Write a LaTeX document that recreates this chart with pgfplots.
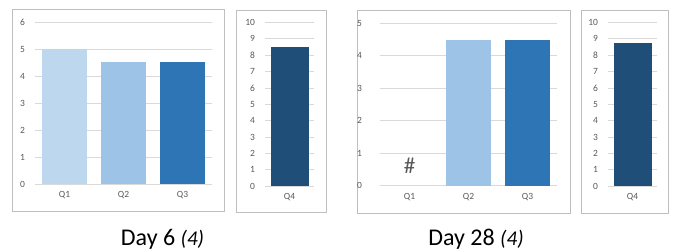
\documentclass[border=0pt]{standalone}
\usepackage{pgfplots}
\pgfplotsset{compat=1.18}
\usepackage{fontspec}
\setmainfont{Carlito}
\definecolor{cQ1}{RGB}{189,215,238}
\definecolor{cQ2}{RGB}{157,195,230}
\definecolor{cQ3}{RGB}{46,117,182}
\definecolor{cQ4}{RGB}{31,78,121}
\definecolor{gridc}{RGB}{217,217,217}
\definecolor{framec}{RGB}{191,191,191}
\definecolor{txt}{RGB}{89,89,89}
\pgfplotsset{
  panel/.style={
    scale only axis,
    ymin=0,
    axis line style={draw=none},
    major tick length=0pt,
    ymajorgrids,
    grid style={gridc, line width=0.8bp},
    ybar, bar width=#1,
    ticklabel style={font=\fontsize{9.5bp}{10bp}\selectfont, text=txt},
    /pgf/number format/assume math mode=true,
    yticklabel style={xshift=-6.5bp},
    xticklabel style={yshift=-4bp},
    clip=false,
  }
}
\begin{document}
\begin{tikzpicture}[x=1bp,y=1bp]
\useasboundingbox (0,0) rectangle (675,251);
% frames
\draw[framec, line width=0.9bp] (12.7,251-9.5) rectangle (224,251-211);
\draw[framec, line width=0.9bp] (236,251-10) rectangle (326,251-212);
\draw[framec, line width=0.9bp] (357,251-10) rectangle (570,251-213);
\draw[framec, line width=0.9bp] (581,251-10) rectangle (668,251-213);
% Panel 1
\begin{axis}[panel=45.5bp, at={(35bp,67bp)}, anchor=south west,
  width=177bp, height=162bp, xmin=-0.5, xmax=2.5, ymax=6, ytick={0,1,2,3,4,5,6},
  xtick={0,1,2}, xticklabels={Q1,Q2,Q3}]
\addplot[fill=cQ1, draw=none, bar shift=0pt] coordinates {(0,5)};
\addplot[fill=cQ2, draw=none, bar shift=0pt] coordinates {(1,4.5)};
\addplot[fill=cQ3, draw=none, bar shift=0pt] coordinates {(2,4.5)};
\end{axis}
% Panel 2
\begin{axis}[panel=38bp, at={(265bp,65bp)}, anchor=south west,
  width=49bp, height=163.5bp, xmin=-0.5, xmax=0.5, ymax=10, ytick={0,1,...,10},
  xtick={0}, xticklabels={Q4}]
\addplot[fill=cQ4, draw=none, bar shift=0pt] coordinates {(0,8.5)};
\end{axis}
% Panel 3
\begin{axis}[panel=45.5bp, at={(380bp,65.3bp)}, anchor=south west,
  width=177bp, height=162.4bp, xmin=-0.5, xmax=2.5, ymax=5, ytick={0,1,2,3,4,5},
  xtick={0,1,2}, xticklabels={Q1,Q2,Q3}, yticklabel style={xshift=-8bp}]
\addplot[fill=cQ2, draw=none, bar shift=0pt] coordinates {(1,4.5)};
\addplot[fill=cQ3, draw=none, bar shift=0pt] coordinates {(2,4.5)};
\node[text=txt, font=\fontsize{23bp}{23bp}\selectfont] at (axis cs:0,0.6) {\#};
\end{axis}
% Panel 4
\begin{axis}[panel=38bp, at={(608bp,65bp)}, anchor=south west,
  width=49bp, height=163.5bp, xmin=-0.5, xmax=0.5, ymax=10, ytick={0,1,...,10},
  xtick={0}, xticklabels={Q4}]
\addplot[fill=cQ4, draw=none, bar shift=0pt] coordinates {(0,8.75)};
\end{axis}
% captions
\node[anchor=base, font=\fontsize{24bp}{24bp}\selectfont] at (162.5,6) {Day 6 \textit{\fontsize{21bp}{21bp}\selectfont(4)}};
\node[anchor=base, font=\fontsize{24bp}{24bp}\selectfont] at (476,6) {Day 28 \textit{\fontsize{21bp}{21bp}\selectfont(4)}};
\end{tikzpicture}
\end{document}
